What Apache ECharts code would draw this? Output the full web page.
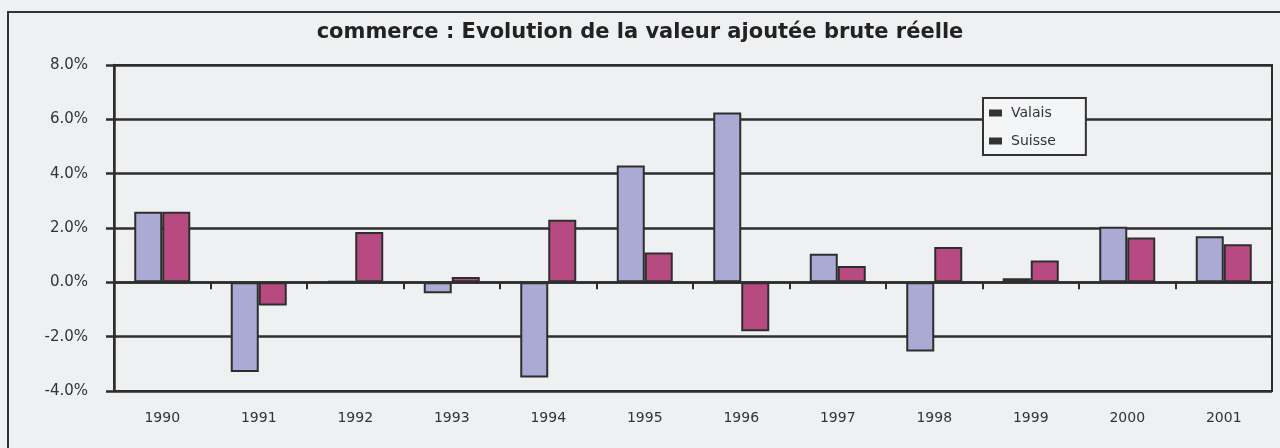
<!DOCTYPE html>
<html>
<head>
<meta charset="utf-8">
<script src="https://cdn.jsdelivr.net/npm/echarts@6/dist/echarts.min.js"></script>
<style>
html, body { margin: 0; padding: 0; background: #eef0f2; }
#chart { width: 1280px; height: 448px; }
</style>
</head>
<body>
<div id="chart"></div>
<script>
// données (en %)
var years = ['1990', '1991', '1992', '1993', '1994', '1995', '1996', '1997', '1998', '1999', '2000', '2001'];
var valais = [2.6, -3.3, 0.05, -0.4, -3.5, 4.3, 6.25, 1.05, -2.55, 0.15, 2.05, 1.7];
var suisse = [2.6, -0.85, 1.85, 0.2, 2.3, 1.1, -1.8, 0.6, 1.3, 0.8, 1.65, 1.4];
var yTicks = { min: -4, max: 8, step: 2 };

var chart = echarts.init(document.getElementById('chart'));

var option = {
    backgroundColor: '#eef0f2',
    animation: false,
    title: {
        text: 'commerce : Evolution de la valeur ajoutée brute réelle',
        left: 'center',
        top: 17,
        textStyle: {
            fontFamily: 'DejaVu Sans',
            fontSize: 21,
            fontWeight: 'bold',
            color: '#222'
        }
    },
    graphic: [{
        type: 'rect',
        shape: { x: 8, y: 12, width: 1300, height: 500 },
        style: { fill: 'none', stroke: '#333', lineWidth: 2 },
        silent: true
    }],
    legend: {
        orient: 'vertical',
        left: 983,
        top: 98,
        padding: [8, 30, 7, 6],
        itemGap: 14,
        itemWidth: 13,
        itemHeight: 7,
        icon: 'rect',
        backgroundColor: '#f4f5f6',
        borderColor: '#333',
        borderWidth: 2,
        itemStyle: { color: '#333', borderWidth: 0 },
        textStyle: { fontFamily: 'DejaVu Sans', fontSize: 14, color: '#333', padding: [0, 0, 0, 4] },
        data: ['Valais', 'Suisse']
    },
    grid: {
        left: 114,
        right: 8,
        top: 65,
        bottom: 57,
        show: true,
        borderColor: '#2e2e2e',
        borderWidth: 2
    },
    xAxis: [{
        type: 'category',
        data: years,
        axisLine: { onZero: true, lineStyle: { color: '#2e2e2e', width: 2.5 } },
        axisTick: { show: true, length: 7, lineStyle: { color: '#2e2e2e', width: 2 } },
        axisLabel: { show: false }
    }, {
        type: 'category',
        data: years,
        position: 'bottom',
        axisLine: { show: false },
        axisTick: { show: false },
        axisLabel: {
            margin: 20,
            fontFamily: 'DejaVu Sans',
            fontSize: 14,
            color: '#333'
        }
    }],
    yAxis: {
        type: 'value',
        min: yTicks.min,
        max: yTicks.max,
        interval: yTicks.step,
        axisLine: { show: true, lineStyle: { color: '#2e2e2e', width: 2.5 } },
        axisTick: { show: true, length: 8, lineStyle: { color: '#2e2e2e', width: 2.5 } },
        axisLabel: {
            margin: 26,
            fontFamily: 'DejaVu Sans',
            fontSize: 15,
            color: '#333',
            formatter: function (v) { return v.toFixed(1) + '%'; }
        },
        splitLine: { show: true, lineStyle: { color: '#2e2e2e', width: 2.5 } }
    },
    series: [{
        name: 'Valais',
        type: 'bar',
        xAxisIndex: 0,
        data: valais,
        barWidth: 28,
        barGap: '0%',
        itemStyle: { color: '#aaaad4', borderColor: '#2e2e2e', borderWidth: 2 }
    }, {
        name: 'Suisse',
        type: 'bar',
        xAxisIndex: 0,
        data: suisse,
        barWidth: 28,
        barGap: '0%',
        itemStyle: { color: '#b84a82', borderColor: '#2e2e2e', borderWidth: 2 }
    }]
};

chart.setOption(option);
</script>
</body>
</html>
